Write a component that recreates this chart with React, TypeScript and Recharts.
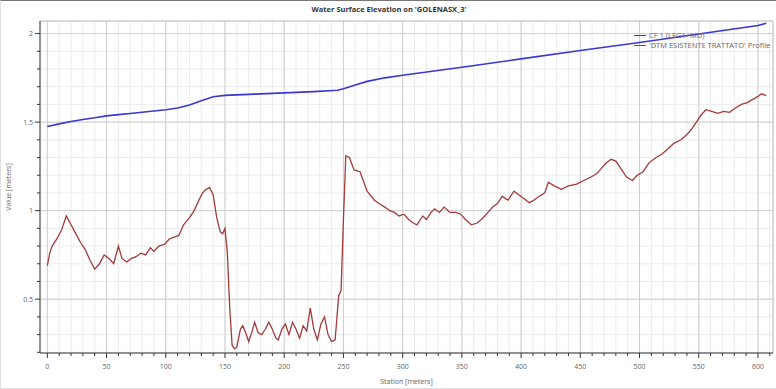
import React from "react";
import {
  LineChart,
  Line,
  XAxis,
  YAxis,
  CartesianGrid,
  ReferenceLine,
  Legend,
} from "recharts";

// Water surface (blue) — station [m], elevation [m]
const wseStations = [0, 10, 20, 30, 40, 50, 60, 70, 80, 90, 100, 110, 120, 130, 140, 150, 175, 200, 225, 245, 250, 260, 270, 285, 300, 350, 400, 450, 500, 550, 600, 607];
const wseValues = [1.475, 1.49, 1.503, 1.515, 1.525, 1.535, 1.542, 1.549, 1.556, 1.563, 1.57, 1.58, 1.597, 1.62, 1.643, 1.651, 1.658, 1.665, 1.672, 1.68, 1.688, 1.71, 1.73, 1.75, 1.765, 1.81, 1.857, 1.904, 1.95, 1.998, 2.046, 2.058];

// Ground profile (red)
const groundStations = [
  0, 2, 4, 8, 12, 16, 20, 24, 28, 32, 36, 40, 44, 48, 52, 56, 60, 63, 67, 71, 75, 79, 83, 87, 90, 94, 99, 103, 107, 111, 115, 120, 124, 128, 131, 134, 137, 140, 143, 146, 148, 150, 152, 154, 156, 158, 160, 163, 165, 168, 170, 173, 175, 178, 181, 184, 187, 190, 193, 195, 198, 201, 204, 207, 210, 213, 216, 219, 222, 225, 228, 231, 234, 237, 240, 243, 246, 248, 250, 252, 255, 259, 264, 270, 276, 280, 285, 289, 293, 297, 301, 305, 309, 312, 317, 320, 324, 327, 331, 335, 340, 345, 349, 353, 358, 363, 368, 372, 376, 380, 384, 389, 394, 398, 402, 407, 411, 415, 420, 423, 428, 434, 440, 447, 453, 459, 464, 468, 472, 476, 480, 484, 489, 494, 498, 503, 508, 514, 519, 524, 529, 535, 540, 544, 548, 552, 556, 561, 566, 571, 576, 581, 586, 591, 596, 600, 603, 607,
];
const groundValues = [
  0.69, 0.76, 0.8, 0.84, 0.89, 0.97, 0.92, 0.87, 0.82, 0.78, 0.72, 0.67, 0.7, 0.75, 0.73, 0.7, 0.8, 0.73, 0.71, 0.73, 0.74, 0.76, 0.75, 0.79, 0.77, 0.8, 0.81, 0.84, 0.85, 0.86, 0.92, 0.96, 1.0, 1.06, 1.1, 1.12, 1.13, 1.09, 0.96, 0.88, 0.87, 0.9, 0.76, 0.45, 0.24, 0.22, 0.23, 0.33, 0.35, 0.3, 0.26, 0.32, 0.37, 0.31, 0.3, 0.33, 0.37, 0.33, 0.28, 0.27, 0.33, 0.36, 0.3, 0.37, 0.33, 0.28, 0.35, 0.32, 0.45, 0.33, 0.27, 0.36, 0.4, 0.3, 0.26, 0.27, 0.52, 0.55, 0.95, 1.31, 1.3, 1.23, 1.22, 1.11, 1.06, 1.04, 1.02, 1.0, 0.99, 0.97, 0.98, 0.95, 0.93, 0.92, 0.97, 0.95, 0.99, 1.01, 0.99, 1.02, 0.99, 0.99, 0.98, 0.95, 0.92, 0.93, 0.96, 0.99, 1.02, 1.04, 1.08, 1.06, 1.11, 1.09, 1.07, 1.045, 1.06, 1.08, 1.1, 1.16, 1.14, 1.12, 1.14, 1.15, 1.17, 1.19, 1.21, 1.24, 1.27, 1.29, 1.28, 1.24, 1.19, 1.17, 1.2, 1.22, 1.27, 1.3, 1.32, 1.35, 1.38, 1.4, 1.43, 1.46, 1.5, 1.54, 1.57, 1.56, 1.55, 1.56, 1.555, 1.58, 1.6, 1.61, 1.63, 1.645, 1.66, 1.65,
];

const xTicks = [0, 10, 20, 30, 40, 50, 60, 70, 80, 90, 100, 110, 120, 130, 140, 150, 160, 170, 180, 190, 200, 210, 220, 230, 240, 250, 260, 270, 280, 290, 300, 310, 320, 330, 340, 350, 360, 370, 380, 390, 400, 410, 420, 430, 440, 450, 460, 470, 480, 490, 500, 510, 520, 530, 540, 550, 560, 570, 580, 590, 600, 610];
const xMajor = [0, 50, 100, 150, 200, 250, 300, 350, 400, 450, 500, 550, 600];
const yTicks = [0.2, 0.3, 0.4, 0.5, 0.6, 0.7, 0.8, 0.9, 1.0, 1.1, 1.2, 1.3, 1.4, 1.5, 1.6, 1.7, 1.8, 1.9, 2.0];
const yMajor = [0.5, 1, 1.5, 2];
const yLabels: Record<string, string> = { "0.5": "0.5", "1": "1", "1.5": "1.5", "2": "2" };

const X_DOMAIN: [number, number] = [-6.2, 612.7];
const Y_DOMAIN: [number, number] = [0.196, 2.071];

const SERIES_NAMES = ["CF 1 (LEG1+MD)", "'DTM ESISTENTE TRATTATO' Profile"];
const BLUE = "#3b36d6";
const RED = "#a23a3a";
const FONT = "'Open Sans', 'DejaVu Sans', sans-serif";

const wseData = wseStations.map((s, i) => ({ station: s, value: wseValues[i] }));
const groundData = groundStations.map((s, i) => ({ station: s, value: groundValues[i] }));

const isMajorX = (v: number) => xMajor.includes(v);
const isMajorY = (v: number) => yMajor.some((m) => Math.abs(m - v) < 1e-6);

// eslint-disable-next-line @typescript-eslint/no-explicit-any
function XTick(props: any) {
  const { x, y, payload } = props;
  const major = isMajorX(payload.value);
  return (
    <g>
      <line x1={x} x2={x} y1={y} y2={y + (major ? 5 : 3)} stroke="#333" strokeWidth={1} />
      {major && (
        <text x={x} y={y + 16} textAnchor="middle" fontSize={7} fill="#666" fontFamily={FONT}>
          {payload.value}
        </text>
      )}
    </g>
  );
}

// eslint-disable-next-line @typescript-eslint/no-explicit-any
function YTick(props: any) {
  const { x, y, payload } = props;
  const major = isMajorY(payload.value);
  const label = yLabels[String(Math.round(payload.value * 10) / 10)];
  return (
    <g>
      <line x1={x} x2={x - (major ? 5 : 3)} y1={y} y2={y} stroke="#333" strokeWidth={1} />
      {major && label && (
        <text x={x - 7} y={y + 2.5} textAnchor="end" fontSize={7} fill="#666" fontFamily={FONT}>
          {label}
        </text>
      )}
    </g>
  );
}

function LegendBox() {
  const colors = [BLUE, RED];
  return (
    <div style={{ position: "absolute", left: 633, top: 30, fontFamily: FONT, fontSize: 7.5, color: "#666", lineHeight: "9.5px" }}>
      {SERIES_NAMES.map((n, i) => (
        <div key={n} style={{ display: "flex", alignItems: "center", whiteSpace: "nowrap" }}>
          <span style={{ display: "inline-block", width: 12, height: 0, borderTop: `1.5px solid ${colors[i]}`, marginRight: 3 }} />
          <span>{n}</span>
        </div>
      ))}
    </div>
  );
}

export default function App() {
  return (
    <div
      style={{
        position: "absolute",
        left: 0,
        top: 0,
        width: 776,
        height: 389,
        background: "#fff",
        boxSizing: "border-box",
        borderTop: "1px solid #777",
        borderLeft: "1px solid #e0e0e0",
        borderBottom: "1px solid #e0e0e0",
        fontFamily: FONT,
      }}
    >
      <div
        style={{
          position: "absolute",
          left: 0,
          width: 776,
          top: 3,
          textAlign: "center",
          fontSize: 7.5,
          fontWeight: 700,
          color: "#333",
        }}
      >
        Water Surface Elevation on 'GOLENASX_3'
      </div>
      <div style={{ position: "absolute", left: 0, top: -1 }}>
        <LineChart width={776} height={389} margin={{ top: 21, right: 4, left: 0, bottom: 0 }}>
          <CartesianGrid stroke="#ececec" strokeWidth={1} />
          {xMajor.map((v) => (
            <ReferenceLine key={`gx${v}`} x={v} stroke="#cfcfcf" strokeWidth={1} />
          ))}
          {yMajor.map((v) => (
            <ReferenceLine key={`gy${v}`} y={v} stroke="#cfcfcf" strokeWidth={1} />
          ))}
          <ReferenceLine x={X_DOMAIN[1]} stroke="#bdbdbd" />
          <ReferenceLine y={Y_DOMAIN[1]} stroke="#bdbdbd" />
          <XAxis
            type="number"
            dataKey="station"
            domain={X_DOMAIN}
            ticks={xTicks}
            interval={0}
            allowDataOverflow
            height={36}
            tickSize={0}
            tickMargin={0}
            tickLine={false}
            stroke="#333"
            tick={<XTick />}
            label={{ value: "Station [meters]", position: "insideBottom", offset: 5, style: { fontSize: 7, fill: "#666", fontFamily: FONT } }}
          />
          <YAxis
            type="number"
            domain={Y_DOMAIN}
            ticks={yTicks}
            interval={0}
            allowDataOverflow
            width={39}
            tickSize={0}
            tickMargin={0}
            tickLine={false}
            stroke="#333"
            tick={<YTick />}
            label={{ value: "Value [meters]", angle: -90, position: "insideLeft", offset: 8, style: { fontSize: 7, fill: "#666", fontFamily: FONT, textAnchor: "middle" } }}
          />
          <Legend content={() => null} />
          <Line
            data={wseData}
            dataKey="value"
            name={SERIES_NAMES[0]}
            type="linear"
            stroke={BLUE}
            strokeWidth={1.6}
            dot={false}
            isAnimationActive={false}
          />
          <Line
            data={groundData}
            dataKey="value"
            name={SERIES_NAMES[1]}
            type="linear"
            stroke={RED}
            strokeWidth={1.3}
            dot={false}
            isAnimationActive={false}
          />
        </LineChart>
      </div>
      <LegendBox />
    </div>
  );
}
